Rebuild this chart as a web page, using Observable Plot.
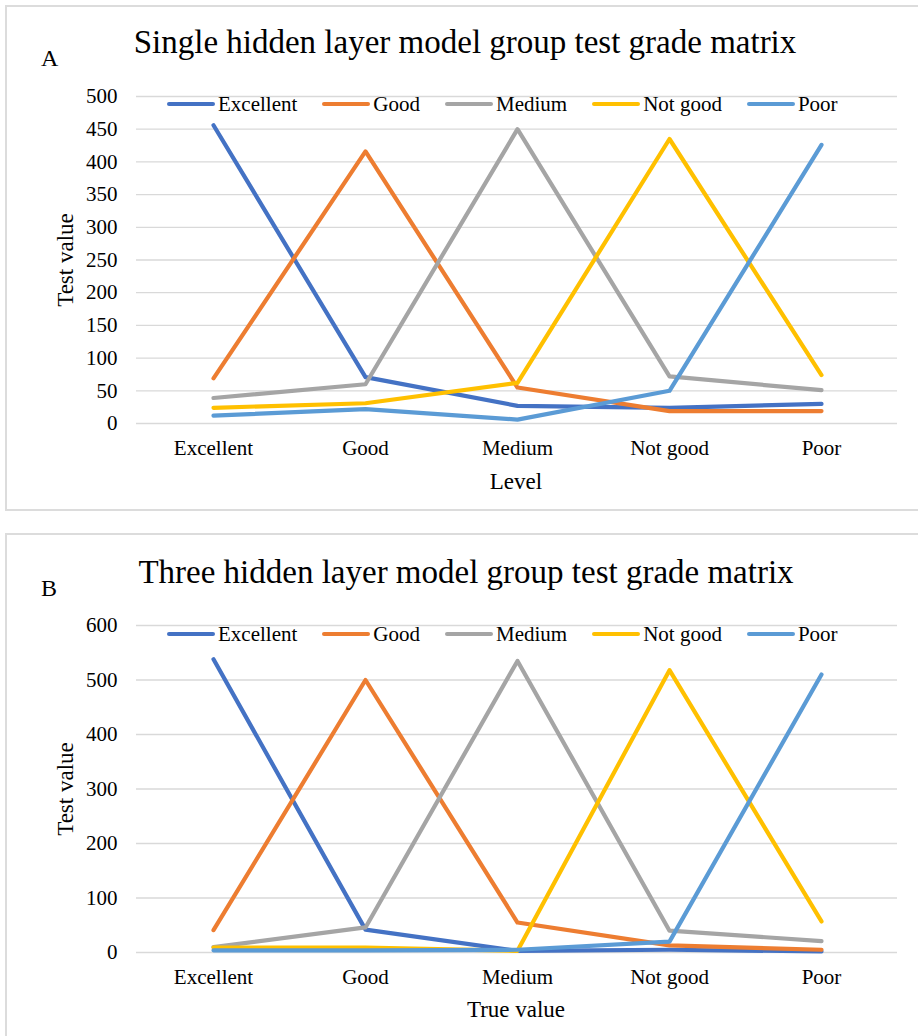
<!DOCTYPE html>
<html>
<head>
<meta charset="utf-8">
<script src="https://cdn.jsdelivr.net/npm/d3@7"></script>
<script src="https://cdn.jsdelivr.net/npm/@observablehq/plot@0.6"></script>
<style>
  html, body { margin: 0; padding: 0; background: #fff; overflow: hidden; }
  body { width: 918px; height: 1036px; position: relative; font-family: "Liberation Serif", "Times New Roman", serif; color: #000; }
  .box { position: absolute; border: 2px solid #dcdcdc; box-sizing: border-box; z-index: 3; pointer-events: none; }
  .abs { position: absolute; white-space: nowrap; z-index: 2; }
  .title { font-size: 33px; line-height: 33px; transform: translateX(-50%); }
  .letter { font-size: 24px; line-height: 24px; }
  .axtitle { font-size: 23px; line-height: 23px; transform: translateX(-50%); }
  .ytitle { font-size: 23px; line-height: 23px; transform: translate(-50%, -50%) rotate(-90deg); }
  .legend { display: flex; align-items: center; font-size: 21px; line-height: 21px; gap: 25px; }
  .item { display: flex; align-items: center; }
  .sw { width: 48px; height: 4px; border-radius: 2px; margin-right: 3px; }
  .plotwrap { position: absolute; left: 0; z-index: 1; }
  .plotwrap svg { max-width: none; background: transparent; }
</style>
</head>
<body>
<script>
// Categories (true level on x, predicted series)
const levels = ["Excellent", "Good", "Medium", "Not good", "Poor"];
const seriesNames = ["Excellent", "Good", "Medium", "Not good", "Poor"];
const seriesColors = ["#4472C4", "#ED7D31", "#A5A5A5", "#FFC000", "#5B9BD5"];

// Panel A: single hidden layer model (values per series across true levels)
const aExcellent = [456, 71, 27, 24, 30];
const aGood      = [69, 416, 55, 19, 19];
const aMedium    = [39, 60, 450, 72, 51];
const aNotGood   = [24, 31, 62, 435, 74];
const aPoor      = [12, 22, 6, 50, 426];
const aTicks = [0, 50, 100, 150, 200, 250, 300, 350, 400, 450, 500];

// Panel B: three hidden layer model
const bExcellent = [538, 42, 3, 5, 2];
const bGood      = [41, 500, 55, 13, 5];
const bMedium    = [10, 46, 535, 40, 21];
const bNotGood   = [9, 9, 3, 518, 57];
const bPoor      = [4, 4, 5, 20, 510];
const bTicks = [0, 100, 200, 300, 400, 500, 600];

const FONT = '"Liberation Serif", "Times New Roman", serif';

function addText(cls, text, left, top) {
  const d = document.createElement("div");
  d.className = "abs " + cls;
  d.textContent = text;
  d.style.left = left + "px";
  d.style.top = top + "px";
  document.body.appendChild(d);
  return d;
}

function addLegend(left, top) {
  const lg = document.createElement("div");
  lg.className = "abs legend";
  lg.style.left = left + "px";
  lg.style.top = top + "px";
  seriesNames.forEach((s, i) => {
    const it = document.createElement("div");
    it.className = "item";
    const sw = document.createElement("div");
    sw.className = "sw";
    sw.style.background = seriesColors[i];
    const tx = document.createElement("span");
    tx.textContent = s;
    it.appendChild(sw); it.appendChild(tx);
    lg.appendChild(it);
  });
  document.body.appendChild(lg);
}

function addBox(left, top, width, height) {
  const b = document.createElement("div");
  b.className = "box";
  Object.assign(b.style, {left: left + "px", top: top + "px", width: width + "px", height: height + "px"});
  document.body.appendChild(b);
}

function panel(seriesValues, ticks, svgTop, height, marginTop, marginBottom) {
  const data = seriesNames.flatMap((s, i) =>
    seriesValues[i].map((v, j) => ({series: s, level: levels[j], value: v})));
  const chart = Plot.plot({
    width: 918,
    height,
    marginLeft: 136,
    marginRight: 21,
    marginTop,
    marginBottom,
    style: {fontFamily: FONT, fontSize: "21px", background: "transparent", color: "#000", overflow: "visible"},
    x: {type: "point", domain: levels, padding: 0.5},
    y: {domain: [0, ticks[ticks.length - 1]]},
    color: {domain: seriesNames, range: seriesColors},
    marks: [
      Plot.gridY(ticks, {stroke: "#d9d9d9", strokeOpacity: 1, strokeWidth: 1.3}),
      Plot.axisX({tickSize: 0, tickPadding: 17, label: null, fontSize: 21}),
      Plot.axisY(ticks, {tickSize: 0, tickPadding: 19, label: null, fontSize: 21}),
      Plot.line(data, {x: "level", y: "value", z: "series", stroke: "series",
        strokeWidth: 4.2, strokeLinecap: "round", strokeLinejoin: "round"})
    ]
  });
  const w = document.createElement("div");
  w.className = "plotwrap";
  w.style.top = svgTop + "px";
  w.appendChild(chart);
  document.body.appendChild(w);
}

// Panel A
addBox(5, 5, 930, 506);
addText("letter", "A", 41, 46);
addText("title", "Single hidden layer model group test grade matrix", 465, 25.5);
addLegend(167, 93.5);
panel([aExcellent, aGood, aMedium, aNotGood, aPoor], aTicks, 0, 500, 96, 77);
addText("ytitle", "Test value", 65, 259.5);
addText("axtitle", "Level", 516, 470);

// Panel B
addBox(5, 533, 930, 600);
addText("letter", "B", 41, 576);
addText("title", "Three hidden layer model group test grade matrix", 466, 555.5);
addLegend(167, 623.5);
panel([bExcellent, bGood, bMedium, bNotGood, bPoor], bTicks, 520, 516, 105, 84);
addText("ytitle", "Test value", 65, 788.5);
addText("axtitle", "True value", 516, 998);
</script>
</body>
</html>
